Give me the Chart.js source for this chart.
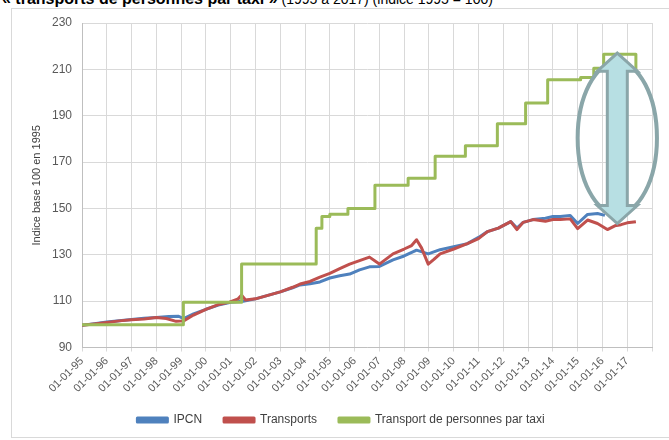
<!DOCTYPE html>
<html lang="fr">
<head>
<meta charset="utf-8">
<title>Indices transports / taxi</title>
<script src="https://cdn.jsdelivr.net/npm/chart.js@4.4.1/dist/chart.umd.min.js"></script>
<style>
  html, body { margin: 0; padding: 0; background: #fff; }
  #wrap { position: relative; width: 669px; height: 440px; overflow: hidden; font-family: "Liberation Sans", Arial, sans-serif; }
  #title { position: absolute; left: 2px; top: -9px; font-size: 14px; line-height: 16px; color: #000; white-space: nowrap; }
  #title b { font-size: 16px; }
  #frame { position: absolute; left: 11px; top: 8px; width: 662px; height: 430px; border: 1px solid #d9d9d9; box-sizing: border-box; }
  canvas { position: absolute; left: 0; top: 0; }
</style>
</head>
<body>
<div id="wrap">
  <div id="title"><b>« transports de personnes par taxi »</b> (1995 à 2017) (indice 1995 = 100)</div>
  <div id="frame"></div>
  <canvas id="chart" width="669" height="440"></canvas>
</div>
<script>
// Axis ticks
const yearTicks = [1995, 1996, 1997, 1998, 1999, 2000, 2001, 2002, 2003, 2004, 2005, 2006,
  2007, 2008, 2009, 2010, 2011, 2012, 2013, 2014, 2015, 2016, 2017, 2018];
const yearLabels = ['01-01-95', '01-01-96', '01-01-97', '01-01-98', '01-01-99', '01-01-00',
  '01-01-01', '01-01-02', '01-01-03', '01-01-04', '01-01-05', '01-01-06', '01-01-07',
  '01-01-08', '01-01-09', '01-01-10', '01-01-11', '01-01-12', '01-01-13', '01-01-14',
  '01-01-15', '01-01-16', '01-01-17', ''];

// IPCN
const ipcnDates = [1995.0, 1995.5, 1996.0, 1996.5, 1997.0, 1997.5, 1998.0, 1998.5, 1998.9,
  1999.1, 1999.5, 2000.0, 2000.5, 2001.0, 2001.5, 2002.0, 2002.5, 2003.0, 2003.5, 2003.8,
  2004.2, 2004.6, 2005.0, 2005.4, 2005.8, 2006.2, 2006.6, 2007.0, 2007.55, 2008.0, 2008.5,
  2008.97, 2009.45, 2010.0, 2010.55, 2011.0, 2011.36, 2011.8, 2012.3, 2012.55, 2012.8,
  2013.2, 2013.7, 2014.0, 2014.3, 2014.7, 2015.0, 2015.4, 2015.8, 2016.1];
const ipcnValues = [99.6, 100.3, 101, 101.6, 102.1, 102.6, 103, 103.4, 103.5,
  102.5, 104.5, 106.5, 108.3, 109.5, 110, 111, 112.5, 114, 115.8, 117,
  117.5, 118.3, 120, 121, 121.7, 123.5, 124.8, 125, 127.8, 129.5, 132,
  130.4, 132.2, 133.5, 134.8, 137.5, 140, 141.5, 144.3, 141.5, 144,
  145.2, 145.8, 146.5, 146.5, 147, 143.5, 147.4, 147.8, 147];

// Transports
const transportDates = [1995.0, 1995.5, 1996.0, 1996.5, 1997.0, 1997.5, 1998.0, 1998.4, 1998.8,
  1999.1, 1999.5, 2000.0, 2000.5, 2000.95, 2001.3, 2001.44, 2001.6, 2002.0, 2002.5, 2003.0,
  2003.5, 2003.8, 2004.2, 2004.6, 2005.0, 2005.4, 2005.8, 2006.2, 2006.6, 2007.0, 2007.55,
  2008.0, 2008.3, 2008.5, 2008.7, 2008.97, 2009.2, 2009.45, 2010.0, 2010.55, 2011.0, 2011.36,
  2011.8, 2012.3, 2012.55, 2012.8, 2013.2, 2013.7, 2014.0, 2014.3, 2014.7, 2015.0, 2015.4,
  2015.8, 2016.2, 2016.5, 2016.75, 2017.0, 2017.35];
const transportValues = [99.6, 100.2, 100.8, 101.5, 102, 102.3, 103, 102.5, 101.3,
  101.5, 104, 106.5, 108.5, 109.6, 111, 112.6, 110.5, 111, 112.5, 114,
  116, 117.4, 118.5, 120.4, 122, 124, 126, 127.5, 129, 126, 130.4,
  132.5, 134, 136.5, 133, 126, 128, 130.4, 132.5, 134.8, 137, 140,
  141.5, 144.3, 140.9, 144, 145.2, 144.5, 145.2, 145.2, 145.5, 141.3, 145,
  143.5, 140.9, 142.5, 143, 143.8, 144.3];

// Transport de personnes par taxi : date of each step and new level
const taxiDates = [1995.0, 1999.09, 2001.44, 2004.45, 2004.68, 2005.0, 2005.73, 2006.82,
  2008.16, 2009.25, 2010.47, 2011.76, 2012.9, 2013.79, 2015.12, 2015.65, 2016.05, 2017.35];
const taxiValues = [99.8, 109.5, 126, 141.5, 146.5, 147.5, 150, 160,
  163, 172.5, 177, 186.5, 195.5, 205.5, 206.5, 210.5, 216.5, 209.5];

const toPoints = (xs, ys) => xs.map((x, i) => ({ x, y: ys[i] }));

// Ellipse + double arrow drawn over the gap
const highlight = {
  id: 'highlight',
  afterDatasetsDraw(chart) {
    const { ctx, scales: { x, y } } = chart;
    const cx = x.getPixelForValue(2016.6);
    const cy = y.getPixelForValue(180.4);
    const rx = x.getPixelForValue(2016.6) - x.getPixelForValue(2015.0);
    const ry = y.getPixelForValue(147.8) - y.getPixelForValue(180.4);
    const top = y.getPixelForValue(217);
    const bottom = y.getPixelForValue(143.5);
    const head = 18, headW = 20, shaftW = 10;

    ctx.save();
    ctx.strokeStyle = '#8aa6a9';
    ctx.lineWidth = 4;
    ctx.beginPath();
    ctx.ellipse(cx, cy, rx, ry, 0, 0, Math.PI * 2);
    ctx.stroke();

    ctx.beginPath();
    ctx.moveTo(cx, top);
    ctx.lineTo(cx + headW, top + head);
    ctx.lineTo(cx + shaftW, top + head);
    ctx.lineTo(cx + shaftW, bottom - head);
    ctx.lineTo(cx + headW, bottom - head);
    ctx.lineTo(cx, bottom);
    ctx.lineTo(cx - headW, bottom - head);
    ctx.lineTo(cx - shaftW, bottom - head);
    ctx.lineTo(cx - shaftW, top + head);
    ctx.lineTo(cx - headW, top + head);
    ctx.closePath();
    ctx.fillStyle = '#b7dfe3';
    ctx.fill();
    ctx.lineWidth = 3;
    ctx.lineJoin = 'miter';
    ctx.stroke();
    ctx.restore();
  },
};

const lineStyle = {
  pointRadius: 0,
  borderWidth: 3,
  tension: 0,
  borderJoinStyle: 'round',
};

new Chart(document.getElementById('chart'), {
  type: 'line',
  data: {
    datasets: [
      {
        ...lineStyle,
        label: 'IPCN',
        data: toPoints(ipcnDates, ipcnValues),
        borderColor: '#4f81bd',
        backgroundColor: '#4f81bd',
        order: 3,
      },
      {
        ...lineStyle,
        label: 'Transports',
        data: toPoints(transportDates, transportValues),
        borderColor: '#c0504d',
        backgroundColor: '#c0504d',
        order: 2,
      },
      {
        ...lineStyle,
        label: 'Transport de personnes par taxi',
        data: toPoints(taxiDates, taxiValues),
        borderColor: '#9bbb59',
        backgroundColor: '#9bbb59',
        stepped: 'before',
        order: 1,
      },
    ],
  },
  options: {
    responsive: false,
    animation: false,
    layout: { padding: { left: 30, top: 23, right: 17, bottom: 4 } },
    scales: {
      x: {
        type: 'linear',
        min: 1995,
        max: 2018,
        afterBuildTicks: (axis) => {
          axis.ticks = yearTicks.map((v) => ({ value: v }));
        },
        afterFit: (scale) => {
          // Chart.js keeps a few spare pixels under rotated labels
          scale.height = scale.height - 6;
        },
        ticks: {
          autoSkip: false,
          minRotation: 45,
          maxRotation: 45,
          color: '#595959',
          font: { family: 'Liberation Sans', size: 11 },
          callback: (value, index) => yearLabels[index],
        },
        grid: { color: '#d9d9d9', tickLength: 4 },
        border: { color: '#bfbfbf' },
      },
      y: {
        min: 90,
        max: 230,
        afterFit: (scale) => {
          scale.width = 52;
        },
        ticks: {
          stepSize: 20,
          padding: 10,
          color: '#595959',
          font: { family: 'Liberation Sans', size: 12 },
        },
        grid: { color: '#d9d9d9', drawTicks: false },
        border: { color: '#bfbfbf' },
        title: {
          display: true,
          text: 'Indice base 100 en 1995',
          color: '#404040',
          font: { family: 'Liberation Sans', size: 11 },
          padding: { top: 0, bottom: 6 },
        },
      },
    },
    plugins: {
      legend: {
        position: 'bottom',
        labels: {
          boxWidth: 30,
          boxHeight: 4,
          padding: 22,
          color: '#404040',
          font: { family: 'Liberation Sans', size: 12 },
          sort: (a, b) => a.datasetIndex - b.datasetIndex,
        },
      },
      tooltip: { enabled: false },
    },
  },
  plugins: [highlight],
});
</script>
</body>
</html>
